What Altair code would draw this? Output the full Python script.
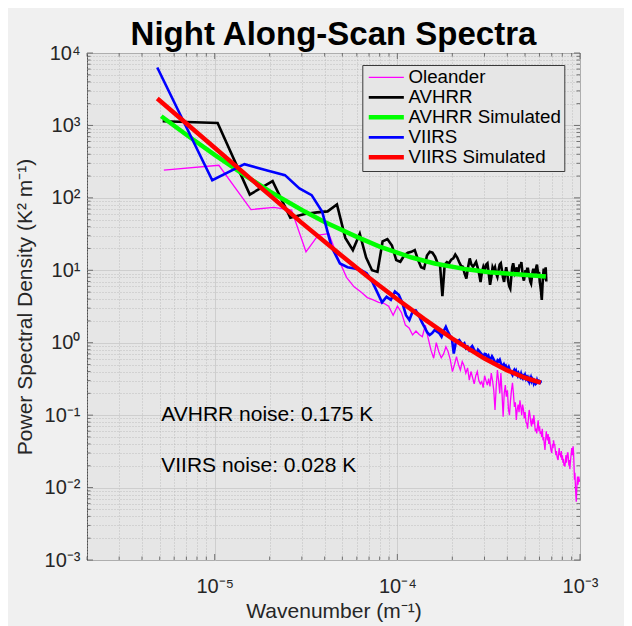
import altair as alt
import pandas as pd

# ---------------- data ----------------
chart_title = "Night Along-Scan Spectra"
series_names = ["Oleander", "AVHRR", "AVHRR Simulated", "VIIRS", "VIIRS Simulated"]
series_colors = ["#ff00ff", "#000000", "#00ff00", "#0000ff", "#ff0000"]

# Oleander spectrum (wavenumber step and PSD values)
oleander_dk = 5.27e-6
oleander_psd = [
    241, 282, 69, 74, 68, 18, 30.5, 32, 14.6, 8,
    5.9, 5.0, 4.2, 3.9, 3.6, 3.5, 3.2, 2.4, 3.2, 2.6,
    1.75, 1.6, 1.28, 1.45, 1.3, 1.21, 1.75, 1.15, 0.79, 0.61,
    1.0, 0.75, 0.62, 0.7, 0.88, 0.75, 0.58, 0.4, 0.5, 0.64,
    0.5, 0.42, 0.55, 0.48, 0.38, 0.45, 0.305, 0.4, 0.33, 0.27,
    0.35, 0.4, 0.3, 0.27, 0.29, 0.24, 0.35, 0.3, 0.26, 0.32,
    0.25, 0.38, 0.3, 0.22, 0.118, 0.25, 0.42, 0.3, 0.2, 0.38,
    0.2, 0.095, 0.2, 0.26, 0.18, 0.22, 0.12, 0.1, 0.16, 0.22,
    0.28, 0.2, 0.13, 0.15, 0.086, 0.12, 0.14, 0.11, 0.16, 0.13,
    0.1, 0.14, 0.12, 0.09, 0.11, 0.08, 0.077, 0.065, 0.09, 0.118,
    0.1, 0.08, 0.07, 0.09, 0.075, 0.1, 0.08, 0.06, 0.065, 0.056,
    0.07, 0.085, 0.06, 0.07, 0.055, 0.06, 0.05, 0.065, 0.045, 0.05,
    0.04, 0.033, 0.045, 0.06, 0.05, 0.045, 0.055, 0.04, 0.05, 0.042,
    0.035, 0.032, 0.03, 0.04, 0.035, 0.045, 0.039, 0.039, 0.033, 0.028,
    0.032, 0.027, 0.025, 0.024, 0.03, 0.035, 0.028, 0.03, 0.026, 0.032,
    0.024, 0.028, 0.022, 0.025, 0.02, 0.022, 0.0195, 0.024, 0.028, 0.022,
    0.026, 0.03, 0.03, 0.025, 0.02, 0.024, 0.018, 0.022, 0.026, 0.03,
    0.035, 0.028, 0.032, 0.037, 0.03, 0.02, 0.0128, 0.016, 0.011, 0.008,
    0.0064, 0.009, 0.012, 0.0142, 0.011, 0.013, 0.0142, 0.012, 0.013, 0.0121,
]

# AVHRR spectrum
avhrr_dk = 5.19e-6
avhrr_psd = [
    1140, 1080, 111, 170, 53, 60, 63, 65, 81, 28,
    19, 32, 15, 10, 9.5, 25, 27, 22, 13.8, 13.1,
    16, 17.5, 18, 19, 14, 11, 10.6, 16, 18, 17.5,
    15.4, 12.5, 11.8, 4.4, 12, 13, 12.5, 14, 14.6, 16.5,
    15, 13, 11.5, 11.2, 9, 7.7, 11, 14.6, 12, 11.2,
    12, 13, 11, 9, 6.9, 9.5, 11.2, 10, 12, 12.5,
    9, 6.3, 8, 11, 10, 11, 9, 8.1, 10, 12,
    12.5, 10, 8, 6.9, 9, 11, 9, 7, 6, 5.6,
    8, 11, 12.5, 10.5, 9, 9.5, 11, 8.5, 10, 12,
    11, 13, 10, 8, 7.2, 8.5, 10, 9, 10.5, 10.5,
    9, 8, 7, 6.6, 8, 9.5, 10.5, 8.5, 10.5, 9,
    11, 12, 10, 8, 9.5, 7, 6, 5, 3.9, 6,
    8.5, 10.5, 9, 7.5, 11, 7,
]

# VIIRS spectrum
viirs_dk = 4.85e-6
viirs_psd = [
    6300, 175, 292, 239, 206, 135, 109, 64, 21, 12.4,
    11.0, 10.6, 10.1, 9.1, 7.0, 5.0, 3.6, 4.3, 3.9, 5.1,
    4.6, 3.5, 2.4, 2.06, 2.7, 2.8, 2.4, 1.95, 1.66, 1.4,
    1.28, 1.36, 1.5, 1.42, 1.35, 1.21, 1.45, 1.66, 1.42, 1.25,
    1.15, 0.71, 0.98, 1.05, 1.09, 1.0, 0.93, 0.98, 0.84, 0.88,
    0.79, 0.85, 0.9, 0.82, 0.76, 0.71, 0.8, 0.76, 0.72, 0.68,
    0.64, 0.7, 0.69, 0.62, 0.66, 0.58, 0.6, 0.65, 0.61, 0.56,
    0.54, 0.52, 0.57, 0.55, 0.58, 0.52, 0.49, 0.47, 0.5, 0.46,
    0.48, 0.45, 0.43, 0.46, 0.42, 0.4, 0.38, 0.36, 0.4, 0.42,
    0.39, 0.41, 0.37, 0.35, 0.38, 0.36, 0.34, 0.37, 0.33, 0.32,
    0.35, 0.34, 0.36, 0.33, 0.36, 0.31, 0.3, 0.32, 0.29, 0.31,
    0.33, 0.3, 0.32, 0.31, 0.28, 0.3, 0.29, 0.27, 0.275, 0.3,
    0.28, 0.31, 0.29, 0.27, 0.3, 0.28,
]

# Simulated (smooth) spectra
avhrr_sim_k = [5.1e-6, 7e-6, 1e-5, 1.5e-5, 2e-5, 3e-5, 4e-5, 6e-5, 8e-5,
               1.2e-4, 1.6e-4, 2.4e-4, 3.2e-4, 4.5e-4, 6.5e-4]
avhrr_sim_psd = [1340, 745, 392, 196, 123, 68, 46.5, 28.9, 21.2,
                 15.0, 12.4, 10.3, 9.4, 8.8, 8.2]
viirs_sim_k = [4.85e-6, 1e-5, 2e-5, 3e-5, 5e-5, 7e-5, 1e-4, 1.4e-4, 2e-4,
               3e-4, 4e-4, 5e-4, 6.1e-4]
viirs_sim_psd = [2350, 491, 109, 45.2, 15.6, 7.9, 3.99, 2.13, 1.14,
                 0.604, 0.415, 0.328, 0.282]

# annotations
note_texts = ["AVHRR noise: 0.175 K", "VIIRS noise: 0.028 K"]
note_k = [5.1e-6, 5.1e-6]
note_psd = [0.083, 0.0166]

# axis ticks
x_major = [1e-5, 1e-4, 1e-3]
x_major_labels = ["10⁻⁵", "10⁻⁴", "10⁻³"]
y_major = [1e-3, 1e-2, 1e-1, 1e0, 1e1, 1e2, 1e3, 1e4]
y_major_labels = ["10⁻³", "10⁻²", "10⁻¹", "10⁰", "10¹", "10²", "10³", "10⁴"]
mults = [2, 3, 4, 5, 6, 7, 8, 9]
x_minor = [m * d for d in [1e-6, 1e-5, 1e-4] for m in mults]
y_minor = [m * d for d in [1e-3, 1e-2, 1e-1, 1e0, 1e1, 1e2, 1e3] for m in mults]

# ---------------- chart ----------------
W, H = 493, 507
FONT = "Liberation Sans"
TXT = "#262626"
TICK = "#555555"

def spectrum(dk, vals, name):
    return pd.DataFrame({"x": [dk * (i + 1) for i in range(len(vals))],
                         "y": vals, "series": name})

df_ole = spectrum(oleander_dk, oleander_psd, "Oleander")
df_avh = spectrum(avhrr_dk, avhrr_psd, "AVHRR")
df_vii = spectrum(viirs_dk, viirs_psd, "VIIRS")
df_avs = pd.DataFrame({"x": avhrr_sim_k, "y": avhrr_sim_psd, "series": "AVHRR Simulated"})
df_vis = pd.DataFrame({"x": viirs_sim_k, "y": viirs_sim_psd, "series": "VIIRS Simulated"})

MAJOR = "abs(log(datum.value)/LN10 - round(log(datum.value)/LN10)) < 0.001"

def label_expr(vals, labels):
    parts = [f"abs(datum.value/{v!r} - 1) < 1e-6 ? '{l}'" for v, l in zip(vals, labels)]
    return " : ".join(parts) + " : ''"

grid_color = {"condition": {"test": MAJOR, "value": "#c8c8c8"}, "value": "#b4b4b4"}
grid_dash = {"condition": {"test": MAJOR, "value": []}, "value": [1, 2]}

xscale = alt.Scale(type="log", domain=[2e-6, 1e-3], nice=False)
yscale = alt.Scale(type="log", domain=[1e-3, 1e4], nice=False)

xaxis = alt.Axis(
    values=x_major + x_minor, labelExpr=label_expr(x_major, x_major_labels),
    grid=True, gridColor=grid_color, gridDash=grid_dash, gridWidth=0.8,
    domain=False, ticks=False, tickSize=0,
    labelFont=FONT, labelFontSize=20, labelColor=TXT, labelPadding=26,
    labelBaseline="middle", labelFlush=False, labelOverlap=False,
    title="Wavenumber (m⁻¹)", titleFont=FONT, titleFontSize=21,
    titleFontWeight="normal", titleColor=TXT, titleY=51, titleBaseline="middle",
)
yaxis = alt.Axis(
    values=y_major + y_minor, labelExpr=label_expr(y_major, y_major_labels),
    grid=True, gridColor=grid_color, gridDash=grid_dash, gridWidth=0.8,
    domain=False, ticks=False, tickSize=0,
    labelFont=FONT, labelFontSize=20, labelColor=TXT, labelPadding=7,
    labelFlush=False, labelOverlap=False,
    title="Power Spectral Density (K² m⁻¹)", titleFont=FONT, titleFontSize=21,
    titleFontWeight="normal", titleColor=TXT, titleX=-62, titleY=H / 2,
    titleAngle=270, titleAlign="center", titleBaseline="middle",
)

X = alt.X("x:Q", scale=xscale, axis=xaxis)
Y = alt.Y("y:Q", scale=yscale, axis=yaxis)

legend = alt.Legend(
    title=None, orient="none", legendX=275.3, legendY=12,
    padding=3, rowPadding=0, symbolOffset=11.65, labelOffset=12.85,
    symbolType="M-1.8,0H1.8", symbolSize=380,
    symbolStrokeWidth={"expr": "datum.value === 'Oleander' ? 1.3 : (datum.value === 'AVHRR' || datum.value === 'VIIRS') ? 2.6 : 4.5"},
    labelFont=FONT, labelFontSize=18.7, labelColor="#000000", labelLimit=400,
    fillColor="#e6e6e6", strokeColor="#3a3a3a",
)
C = alt.Color("series:N", scale=alt.Scale(domain=series_names, range=series_colors), legend=legend)

def line(df, width):
    return alt.Chart(df).mark_line(strokeWidth=width, clip=True).encode(x=X, y=Y, color=C)

lines = [line(df_ole, 1.3), line(df_avh, 2.6), line(df_avs, 4.5), line(df_vii, 2.6), line(df_vis, 4.5)]

df_notes = pd.DataFrame({"x": note_k, "y": note_psd, "label": note_texts})
notes = alt.Chart(df_notes).mark_text(align="left", baseline="alphabetic", font=FONT,
                                      fontSize=21, color="#000000").encode(x=X, y=Y, text="label:N")

title_layer = alt.Chart(pd.DataFrame({"t": [chart_title]})).mark_text(
    align="center", baseline="alphabetic", font=FONT,
    fontSize=33, fontWeight="bold", color="#000000").encode(
    x=alt.value(W / 2), y=alt.value(-8), text="t:N")

def xticks(vals, y0, y1):
    return alt.Chart(pd.DataFrame({"x": vals})).mark_rule(color=TICK, strokeWidth=0.8).encode(
        x=X, y=alt.value(y0), y2=alt.value(y1))

def yticks(vals, x0, x1):
    return alt.Chart(pd.DataFrame({"y": vals})).mark_rule(color=TICK, strokeWidth=0.8).encode(
        y=Y, x=alt.value(x0), x2=alt.value(x1))

ticks = [
    xticks(x_major, H, H - 6), xticks(x_minor, H, H - 3.5),
    xticks(x_major, 0, 6), xticks(x_minor, 0, 3.5),
    yticks(y_major, 0, 6), yticks(y_minor, 0, 3.5),
    yticks(y_major, W, W - 6), yticks(y_minor, W, W - 3.5),
]

chart = alt.layer(*ticks, *lines, notes, title_layer).properties(
    width=W, height=H,
    padding={"left": 79, "top": 45, "right": 44, "bottom": 66},
    autosize="none",
    background="#f0f0f0",
).configure_view(fill="#e6e6e6", stroke="#4d4d4d", strokeWidth=1)

chart.save("out.html", embed_options={"renderer": "svg", "actions": False})
